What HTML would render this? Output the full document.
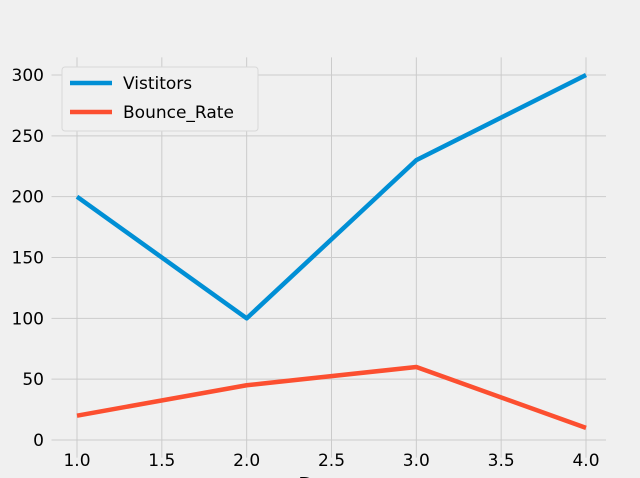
<!DOCTYPE html>
<html><head><meta charset="utf-8"><style>
body{margin:0;background:#f0f0f0;}
svg{display:block;font-family:"DejaVu Sans","Liberation Sans",sans-serif;}
</style></head><body>
<svg id="chart" width="640" height="478"></svg>
<script>
const days=[1,2,3,4];
const visitors=[200,100,230,300];
const bounceRate=[20,45,60,10];
const xTicks=[1.0,1.5,2.0,2.5,3.0,3.5,4.0];
const yTicks=[0,50,100,150,200,250,300];
const seriesNames=["Vistitors","Bounce_Rate"];

const svg=document.getElementById('chart');
const NS='http://www.w3.org/2000/svg';
function X(v){return 77+(v-1)*(586-77)/3;}
function Y(v){return 440-v*(440-75)/300;}
function mk(t,a,p){const e=document.createElementNS(NS,t);for(const k in a)e.setAttribute(k,a[k]);(p||svg).appendChild(e);return e;}
const L=51.5,R=606,T=57.4,B=457.6;
const grid=mk('g',{});


xTicks.forEach(t=>{
 mk('line',{x1:X(t),x2:X(t),y1:T,y2:B,stroke:'#cbcbcb','stroke-width':1},grid);
 const tx=mk('text',{x:X(t),y:466,'font-size':17,'text-anchor':'middle',fill:'#000'});
 
 
 tx.textContent=t.toFixed(1);
});
yTicks.forEach(t=>{
 mk('line',{x1:L,x2:R,y1:Y(t),y2:Y(t),stroke:'#cbcbcb','stroke-width':1},grid);
 const tx=mk('text',{x:44,y:Y(t)+6,'font-size':17,'text-anchor':'end',fill:'#000'});
 
 
 tx.textContent=t;
});
const xl=mk('text',{x:318,y:492,'font-size':20,'text-anchor':'middle',fill:'#000'});


xl.textContent='Day';
function line(vals,color,name){
 const p=mk('polyline',{points:days.map((d,i)=>X(d)+','+Y(vals[i])).join(' '),fill:'none',stroke:color,'stroke-width':4.5,'stroke-linejoin':'round'});
 
 
}
line(visitors,'#008fd5','visitors-line');
line(bounceRate,'#fc4f30','bounce-rate-line');
const lg=mk('g',{});


mk('rect',{x:62,y:67,width:196,height:64,rx:3,fill:'#f0f0f0',stroke:'#d8d8d8','stroke-width':1},lg);
[['#008fd5',83],['#fc4f30',112]].forEach((c,i)=>{
 const g=mk('g',{},lg);
 
 
 mk('line',{x1:70,x2:112,y1:c[1],y2:c[1],stroke:c[0],'stroke-width':4.5},g);
 const t=mk('text',{x:123,y:c[1]+6,'font-size':17,fill:'#000'},g);
 t.textContent=seriesNames[i];
});
</script>
</body></html>
